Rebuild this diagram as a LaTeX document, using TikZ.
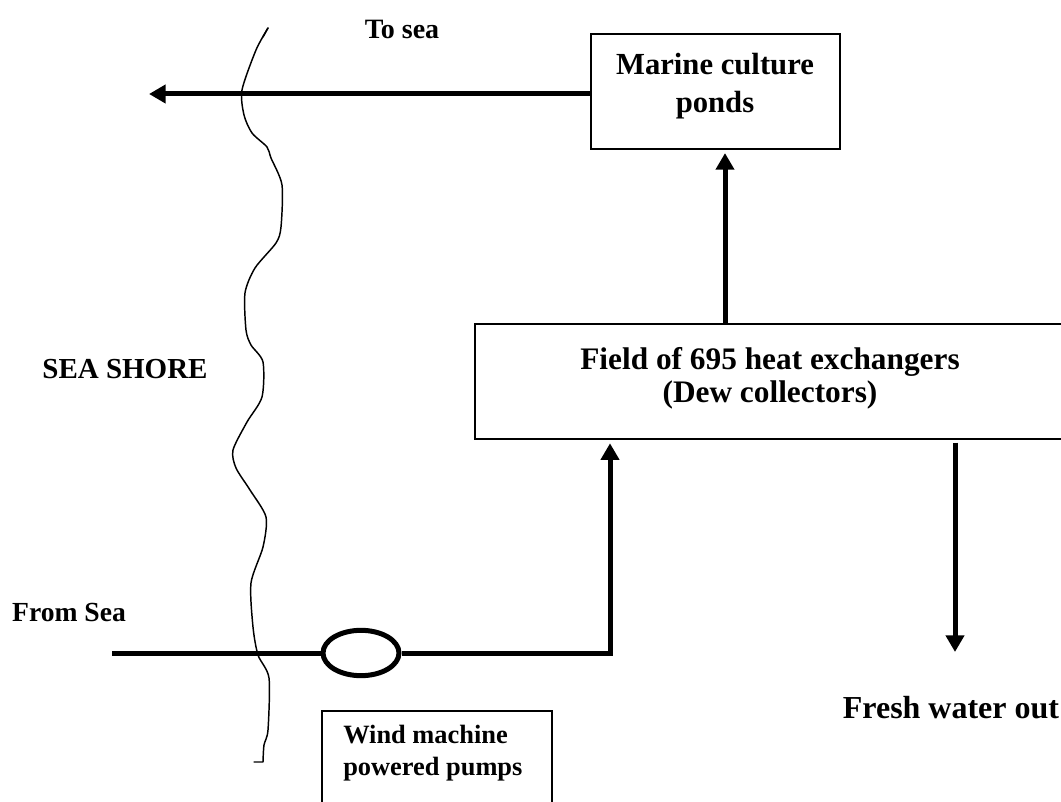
\documentclass[tikz,border=0pt]{standalone}
\usepackage{fontspec}
\setmainfont{Liberation Serif}
\usetikzlibrary{arrows.meta,shapes.geometric}
\begin{document}
\begin{tikzpicture}[x=0.75pt,y=-0.75pt,
  pipe/.style={line width=3.75pt},
  flow/.style={line width=3.75pt,-{Triangle[length=12.5pt,width=13.5pt]}},
  boxnode/.style={draw,line width=1.1pt,inner sep=0pt},
  lbl/.style={font=\bfseries, align=center, inner sep=0pt},
  shore/.style={line width=1.1pt,line join=round,line cap=round}]
\useasboundingbox (0,0) rectangle (1061,802);
\clip (0,0) rectangle (1061,802);
\fill[white] (0,0) rectangle (1061,802);

% boxes
\node[boxnode,minimum width=186.75pt,minimum height=86.25pt] (marine) at (715.5,91.5) {};
\node[boxnode,line width=1.4pt,minimum width=446pt,minimum height=86.25pt] (field) at (772.5,381.5) {};
\node[boxnode,minimum width=172.5pt,minimum height=90pt] (wind) at (437,771) {};
\node[draw,ellipse,line width=3.75pt,inner sep=0pt,minimum width=57pt,minimum height=34pt] (pump) at (361,653) {};

% labels
\node[lbl,font=\bfseries\fontsize{23}{28.5}\selectfont] (marinetxt) at (715,86) {Marine culture\\ponds};
\node[lbl,font=\bfseries\fontsize{23.5}{25}\selectfont] (fieldtxt) at (770,378) {Field of 695 heat exchangers\\(Dew collectors)};
\node[lbl,align=left,anchor=west,font=\bfseries\fontsize{19.8}{24}\selectfont] (windtxt) at (343,753) {Wind machine\\powered pumps};
\node[lbl,font=\bfseries\fontsize{21}{24}\selectfont] (tosea) at (402,29) {To sea};
\node[lbl,font=\bfseries\fontsize{21.75}{24}\selectfont] (seashore) at (125,369) {SEA SHORE};
\node[lbl,font=\bfseries\fontsize{20.7}{24}\selectfont] (fromsea) at (69,612) {From Sea};
\node[lbl,font=\bfseries\fontsize{24}{28}\selectfont] (fresh) at (951,708) {Fresh water out};

% coordinates
\coordinate (seaout) at (149,94);
\coordinate (seain) at (112,653);
\coordinate (corner) at (610,653);
\coordinate (freshend) at (955,652);

% connectors
\draw[flow] (seaout -| marine.west) -- (seaout);
\draw[flow,shorten >=2.5pt] (field.north -| 725,0) -- (marine.south -| 725,0);
\draw[pipe] (seain) -- (pump.west);
\draw[flow,shorten >=2.5pt] (pump.east) -- (corner) -- (corner |- field.south);
\draw[flow,shorten <=2pt] (field.south -| freshend) -- (freshend);

% shore line
\draw[shore] plot[smooth,tension=0.45] coordinates {
 (268,28) (256,50) (242,90) (244,115) (252,133) (267,147) (271,158) (282,185)
 (281,227) (276,243) (255,268) (245,293) (246,330) (251,345) (263,362) (262,397)
 (247,422) (233,450) (236,468) (250,490) (266,517) (263,547) (251,583) (253,627)
 (258,655) (269,678) (268,730) (264,745) (263,762)} -- (254,762);
\draw[shore] (268,28) -- (263,37);
\end{tikzpicture}
\end{document}
